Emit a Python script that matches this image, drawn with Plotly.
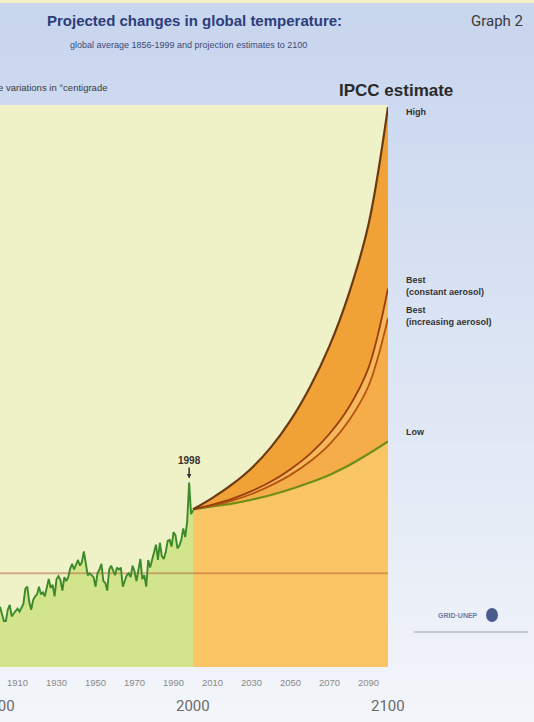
import plotly.graph_objects as go

# ---------------- data ----------------
hist_years = list(range(1901, 2001))
hist_temp = [
    -0.35, -0.44, -0.50, -0.50, -0.38, -0.33, -0.45, -0.42, -0.40, -0.37,
    -0.40, -0.36, -0.32, -0.16, -0.14, -0.30, -0.38, -0.28, -0.24, -0.22,
    -0.14, -0.22, -0.20, -0.24, -0.15, -0.06, -0.15, -0.12, -0.24, -0.06,
    -0.03, -0.07, -0.18, -0.04, -0.08, -0.04, 0.05, 0.10, 0.04, 0.10,
    0.14, 0.08, 0.12, 0.23, 0.08, -0.02, 0.00, -0.02, -0.04, -0.14,
    0.00, 0.04, 0.10, -0.08, -0.10, -0.18, 0.04, 0.08, 0.03, -0.02,
    0.06, 0.04, 0.06, -0.14, -0.08, -0.02, 0.00, -0.04, 0.08, 0.02,
    -0.08, 0.04, 0.15, -0.06, -0.02, -0.14, 0.14, 0.06, 0.14, 0.24,
    0.30, 0.14, 0.32, 0.18, 0.15, 0.22, 0.34, 0.35, 0.28, 0.43,
    0.40, 0.26, 0.29, 0.35, 0.47, 0.38, 0.54, 0.95, 0.62, 0.66,
]

proj_years = [2000, 2010, 2020, 2030, 2040, 2050, 2060, 2070, 2080, 2090, 2100]
high = [0.67, 0.79, 0.93, 1.10, 1.32, 1.60, 1.95, 2.38, 2.93, 3.65, 4.88]
best_const = [0.67, 0.72, 0.78, 0.86, 0.96, 1.09, 1.25, 1.46, 1.74, 2.15, 2.98]
best_incr = [0.67, 0.71, 0.76, 0.83, 0.92, 1.03, 1.17, 1.35, 1.60, 1.96, 2.67]
low = [0.67, 0.70, 0.73, 0.77, 0.82, 0.88, 0.95, 1.03, 1.13, 1.25, 1.38]

baseline_value = 0.0
minor_ticks = [1910, 1930, 1950, 1970, 1990, 2010, 2030, 2050, 2070, 2090]
major_ticks = [1900, 2000, 2100]
scenario_labels = ["High", "Best<br>(constant aerosol)", "Best<br>(increasing aerosol)", "Low"]
peak_year = 1998

x_range = [1901, 2100]
y_range = [-0.98, 4.9]

# ---------------- layout geometry ----------------
W, H = 534, 722
PL, PR, PT, PB = 0, 388, 105, 667


def px(x):
    return (x - PL) / (PR - PL)


def py(y):
    return (PB - y) / (PB - PT)


def yr_paper(yr):
    return (yr - x_range[0]) / (x_range[1] - x_range[0])


fig = go.Figure()
nofill = dict(width=0)

# historical green area
fig.add_trace(go.Scatter(x=hist_years, y=[y_range[0]] * len(hist_years), mode="lines",
                         line=nofill, hoverinfo="skip", showlegend=False))
fig.add_trace(go.Scatter(x=hist_years, y=hist_temp, mode="lines", line=nofill,
                         fill="tonexty", fillcolor="#d2e58c", hoverinfo="skip", showlegend=False))

# projection fills
fig.add_trace(go.Scatter(x=proj_years, y=[y_range[0]] * len(proj_years), mode="lines",
                         line=nofill, hoverinfo="skip", showlegend=False))
for vals, col in [(low, "#f9c565"), (best_incr, "#f4ad48"),
                  (best_const, "#f6b85c"), (high, "#f0a236")]:
    fig.add_trace(go.Scatter(x=proj_years, y=vals, mode="lines", line=dict(width=0, shape="spline"),
                             fill="tonexty", fillcolor=col, hoverinfo="skip", showlegend=False))

# reference line
fig.add_trace(go.Scatter(x=x_range, y=[baseline_value, baseline_value], mode="lines",
                         line=dict(color="rgba(175,85,55,0.45)", width=2),
                         hoverinfo="skip", showlegend=False))

# historical line
fig.add_trace(go.Scatter(x=hist_years, y=hist_temp, mode="lines",
                         line=dict(color="#3c8a2a", width=1.9), showlegend=False))

# projection lines
for vals, col, w in [(low, "#6f8d16", 2.2), (best_incr, "#b5530f", 1.8),
                     (best_const, "#9a3f0b", 1.8), (high, "#6b3a12", 2.2)]:
    fig.add_trace(go.Scatter(x=proj_years, y=vals, mode="lines",
                             line=dict(color=col, width=w, shape="spline"), showlegend=False))

# ---------------- background ----------------
shapes = []
nb = 36
top_c = (200, 214, 238)
bot_c = (243, 245, 250)
y0 = 3
for i in range(nb):
    a = y0 + (H - y0) * i / nb
    b = y0 + (H - y0) * (i + 1) / nb
    t = i / (nb - 1)
    c = tuple(int(top_c[k] + (bot_c[k] - top_c[k]) * t) for k in range(3))
    shapes.append(dict(type="rect", xref="paper", yref="paper", x0=px(0), x1=px(W),
                       y0=py(b + 0.5), y1=py(a), fillcolor="rgb(%d,%d,%d)" % c,
                       line=dict(width=0), layer="below"))
shapes.append(dict(type="rect", xref="paper", yref="paper", x0=px(0), x1=px(W),
                   y0=py(3), y1=py(0), fillcolor="#f6efc4", line=dict(width=0), layer="below"))
# plot area
shapes.append(dict(type="rect", xref="paper", yref="paper", x0=0, x1=1, y0=0, y1=1,
                   fillcolor="#eff1c6", line=dict(width=0), layer="below"))
# logo bits
shapes.append(dict(type="circle", xref="paper", yref="paper", x0=px(486), x1=px(498),
                   y0=py(622), y1=py(608), fillcolor="#4a5c8e", line=dict(width=0)))
shapes.append(dict(type="line", xref="paper", yref="paper", x0=px(414), x1=px(528),
                   y0=py(632), y1=py(632), line=dict(color="#b5bccb", width=1.5)))

# ---------------- annotations ----------------
ann = []
ann.append(dict(text="<b>Projected changes in global temperature:</b>", x=px(194), y=py(20),
                xref="paper", yref="paper", showarrow=False, xanchor="center", yanchor="middle",
                font=dict(family="Liberation Sans", size=15, color="#2c3d7c")))
ann.append(dict(text="global average 1856-1999 and projection estimates to 2100", x=px(188), y=py(45),
                xref="paper", yref="paper", showarrow=False, xanchor="center", yanchor="middle",
                font=dict(family="Liberation Sans", size=9, color="#3c4a78")))
ann.append(dict(text="Graph 2", x=px(497), y=py(21), xref="paper", yref="paper", showarrow=False,
                xanchor="center", yanchor="middle",
                font=dict(family="Roboto", size=15, color="#3a3a3a")))
ann.append(dict(text="Temperature variations in °centigrade", x=px(109), y=py(87), xref="paper",
                yref="paper", showarrow=False, xanchor="right", yanchor="middle",
                font=dict(family="Liberation Sans", size=9.5, color="#3a3a3a")))
ann.append(dict(text="<b>IPCC estimate</b>", x=px(396), y=py(91), xref="paper", yref="paper",
                showarrow=False, xanchor="center", yanchor="middle",
                font=dict(family="Liberation Sans", size=17, color="#2a2a2a")))

label_pos = [112, 286, 316, 432]
for txt, yy in zip(scenario_labels, label_pos):
    ann.append(dict(text="<b>%s</b>" % txt, x=px(404), y=py(yy), xref="paper", yref="paper",
                    showarrow=False, xanchor="left", yanchor="middle", align="left",
                    font=dict(family="Liberation Sans", size=9, color="#333333")))

ann.append(dict(text="<b>%d</b>" % peak_year, x=peak_year, y=hist_temp[hist_years.index(peak_year)],
                xref="x", yref="y", showarrow=True, ax=0, ay=-22, arrowhead=2, arrowsize=0.6,
                arrowwidth=1.5, arrowcolor="#333333", standoff=4,
                font=dict(family="Liberation Sans", size=10, color="#333333")))

for yr in major_ticks:
    ann.append(dict(text=str(yr), x=yr_paper(yr), y=py(706), xref="paper", yref="paper",
                    showarrow=False, xanchor="center", yanchor="middle",
                    font=dict(family="Roboto", size=15, color="#6a6a6a")))

ann.append(dict(text="<b>GRID·UNEP</b>", x=px(458), y=py(615), xref="paper", yref="paper",
                showarrow=False, xanchor="center", yanchor="middle",
                font=dict(family="Liberation Sans", size=7, color="#6d7ca3")))

fig.update_layout(
    width=W, height=H,
    margin=dict(l=PL, r=W - PR, t=PT, b=H - PB, pad=0),
    paper_bgcolor="rgb(243,245,250)",
    plot_bgcolor="#eff1c6",
    shapes=shapes,
    annotations=ann,
    showlegend=False,
    xaxis=dict(range=x_range, tickvals=minor_ticks, ticktext=[str(t) for t in minor_ticks],
               tickfont=dict(family="Liberation Sans", size=9.5, color="#8a8a8a"),
               ticks="outside", ticklen=7, tickcolor="rgba(0,0,0,0)",
               showgrid=False, zeroline=False, showline=False, fixedrange=True),
    yaxis=dict(range=y_range, visible=False, showgrid=False, zeroline=False, fixedrange=True),
)

fig.write_html(
    "out.html",
    config={"displayModeBar": False},
    post_script="document.body.style.margin='0';document.body.style.padding='0';"
                "document.body.style.overflow='hidden';",
)
